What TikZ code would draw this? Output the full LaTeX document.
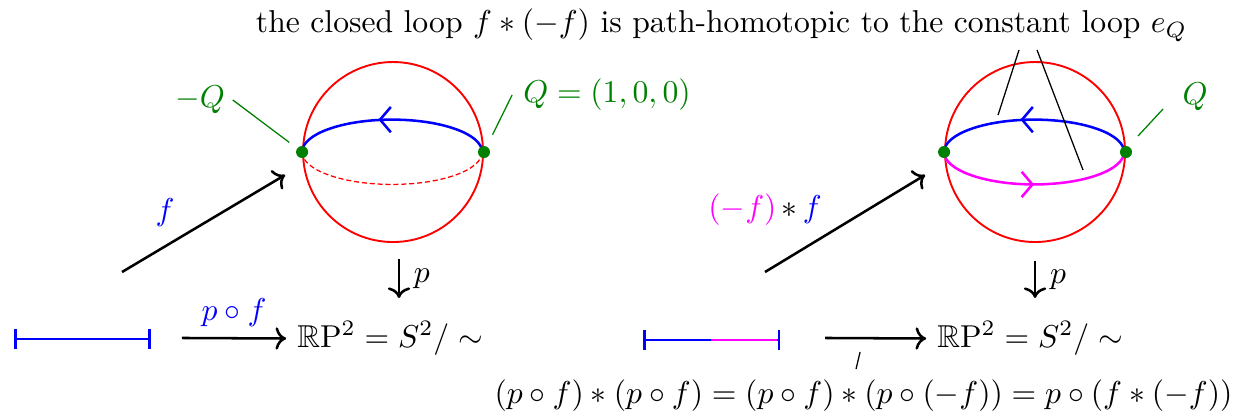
\documentclass[tikz,border=0pt]{standalone}
\usepackage{amssymb}
\usetikzlibrary{decorations.markings, arrows.meta}

\definecolor{qgreen}{rgb}{0,0.5,0}
\definecolor{magenta}{rgb}{1,0,1}

\tikzset{
  sphere/.style={circle, draw=red, semithick, minimum size=2cm, inner sep=0pt},
  qdot/.style={circle, fill=qgreen, minimum size=3.8pt, inner sep=0pt},
  midarrow/.style={postaction={decorate},
    decoration={markings, mark=at position 0.5 with {\arrow{#1}}}},
  qline/.style={qgreen, thin},
}

\begin{document}
\begin{tikzpicture}
    \useasboundingbox (0,0) rectangle (13.744,4.611);

    % Title above both spheres
    \node (title) at (8.017,4.333) {the closed loop $f*(-f)$ is path-homotopic to the constant loop $e_Q$};

    % Left sphere S^2 with the path f
    \node[sphere] (sL) at (4.367,2.922) {};
    \draw[red, thin, dash pattern=on 1.6pt off 0.9pt] (sL.west) arc[start angle=180, end angle=360, x radius=1cm, y radius=0.36cm];
    \draw[blue, thick, midarrow={Straight Barb[reversed, length=3.4pt, width=8pt]}] (sL.west) arc[start angle=180, end angle=0, x radius=1cm, y radius=0.36cm];
    \node[qdot] (qL1) at (sL.west) {};
    \node[qdot] (qL2) at (sL.east) {};

    % Labels of the antipodal points
    \node[qgreen] (mQ) at (2.222,3.5) {$-Q$};
    \node[qgreen] (Q1) at (6.744,3.556) {$Q=(1,0,0)$};
    \draw[qline, shorten >=3pt] ([xshift=-1pt]mQ.east) -- (qL1);
    \draw[qline, shorten >=4pt] (Q1.west) -- (qL2);

    % Path f into the sphere
    \coordinate (fL0) at (1.356,1.589);
    \coordinate (fL1) at (3.167,2.667);
    \draw[->, thick] (fL0) -- (fL1);
    \node[blue] (fLab) at (1.833,2.244) {$f$};

    % Projection p (left)
    \coordinate (pL0) at (4.433,1.733);
    \coordinate (pL1) at (4.433,1.3);
    \draw[->, thick] (pL0) -- node[right, xshift=1pt] {$p$} (pL1);

    % Interval and p o f (left)
    \coordinate (iL0) at (0.156,0.844);
    \coordinate (iL1) at (1.678,0.844);
    \draw[blue, thick, |-|] (iL0) -- (iL1);
    \node (rpL) at (4.333,0.85) {$\mathbb{R}\mathrm{P}^2 = S^2/\sim$};
    \coordinate (aL0) at (2.022,0.856);
    \draw[->, thick] (aL0) -- node[above, blue] {$p\circ f$} (rpL.west);

    % Right sphere with f and -f
    \node[sphere] (sR) at (11.5,2.922) {};
    \draw[blue, thick, midarrow={Straight Barb[reversed, length=3.4pt, width=8pt]}] (sR.west) arc[start angle=180, end angle=0, x radius=1cm, y radius=0.36cm];
    \draw[magenta, thick, midarrow={Straight Barb[length=3.4pt, width=8pt]}] (sR.west) arc[start angle=180, end angle=360, x radius=1cm, y radius=0.36cm];
    \node[qdot] (qR1) at (sR.west) {};
    \node[qdot] (qR2) at (sR.east) {};
    \node[qgreen] (Q2) at (13.278,3.533) {$Q$};
    \coordinate (q2a) at (12.922,3.4);
    \coordinate (q2b) at (12.644,3.1);
    \draw[qline] (q2a) -- (q2b);

    % Pointers from the title to the two loops
    \coordinate (t1a) at (11.322,4.056);
    \coordinate (t1b) at (11.089,3.333);
    \coordinate (t2a) at (11.522,4.056);
    \coordinate (t2b) at (12.033,2.722);
    \draw[thin] (t1a) -- (t1b);
    \draw[thin] (t2a) -- (t2b);

    % Path (-f)*f into the sphere
    \coordinate (fR0) at (8.5,1.589);
    \coordinate (fR1) at (10.278,2.667);
    \draw[->, thick] (fR0) -- (fR1);
    \node (fRlab) at (8.5,2.278) {${\color{magenta}(-f)}\mkern3mu{*}\mkern3mu{\color{blue}f}$};

    % Projection p (right)
    \coordinate (pR0) at (11.5,1.711);
    \coordinate (pR1) at (11.5,1.3);
    \draw[->, thick] (pR0) -- node[right, xshift=1pt] {$p$} (pR1);

    % Interval and map (right)
    \coordinate (iR0) at (7.144,0.833);
    \coordinate (iRm) at (7.9,0.833);
    \coordinate (iR1) at (8.667,0.833);
    \draw[blue, thick, |-|] (iR0) -- (iR1);
    \draw[magenta, thick] (iRm) -- ([xshift=-1pt]iR1);
    \node (rpR) at (11.444,0.85) {$\mathbb{R}\mathrm{P}^2 = S^2/\sim$};
    \coordinate (aR0) at (9.167,0.856);
    \draw[->, thick] (aR0) -- (rpR.west);

    % Identity below
    \node (eqn) at (9.594,0.211) {$(p\circ f)*(p\circ f) = (p\circ f)*(p\circ(-f)) = p\circ(f*(-f))$};
    \coordinate (tk0) at (9.556,0.7);
    \coordinate (tk1) at (9.511,0.511);
    \draw[thin] (tk0) -- (tk1);

\end{tikzpicture}
\end{document}
